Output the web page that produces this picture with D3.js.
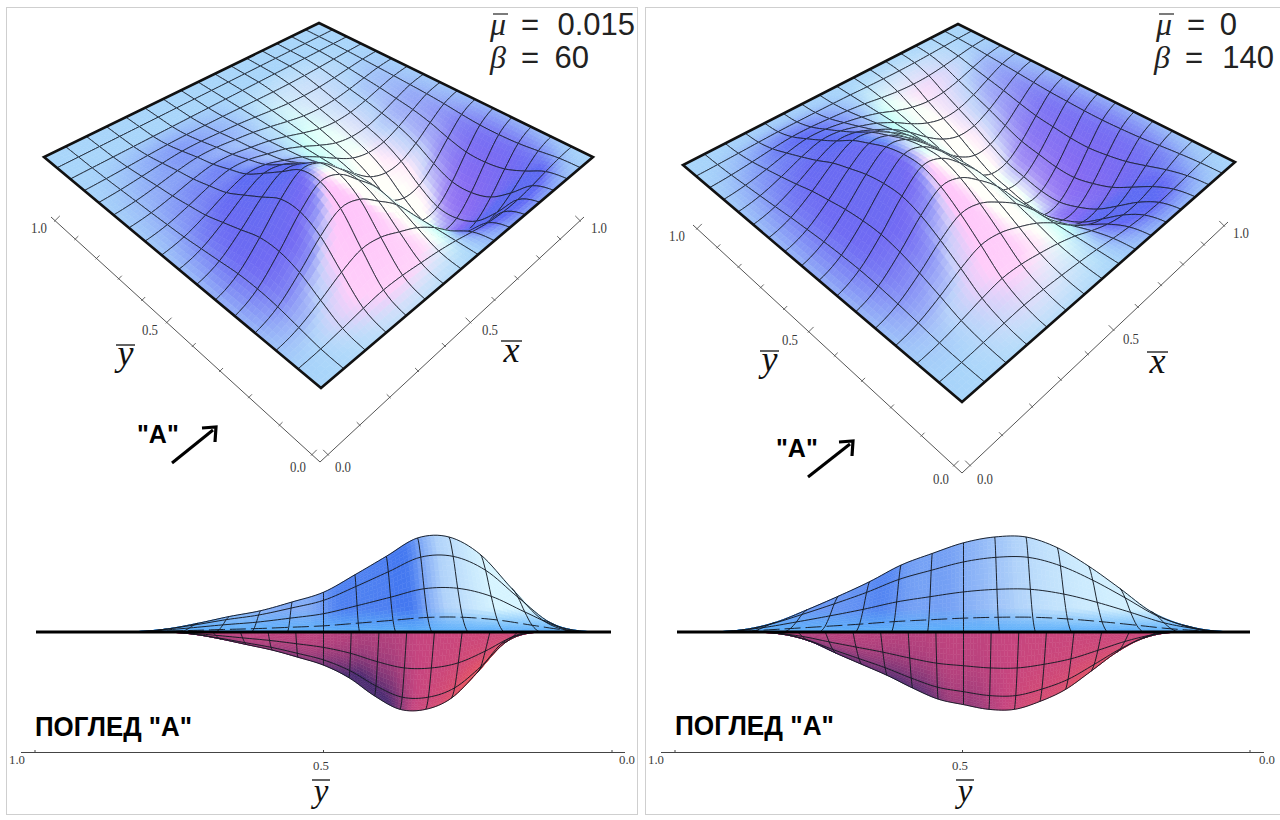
<!DOCTYPE html>
<html><head><meta charset="utf-8">
<script src="https://cdn.jsdelivr.net/npm/d3@7/dist/d3.min.js"></script>
<style>html,body{margin:0;padding:0;background:#fff}svg{display:block}</style>
</head><body><svg id="c" width="1280" height="820"></svg>
<script>
// ---- values (nodes at k/16) ----
const xProfileLeft  = [0,.14,.43,.77,1,.93,.68,.40,0,-.44,-.82,-1,-.97,-.74,-.42,-.13,0];
const yHumpLeft     = [0,.12,.45,.80,.98,.97,.78,.59,.41,.31,.22,.16,.09,.03,0,0,0];
const yDipLeft      = [0,.14,.52,.84,.98,.98,.81,.58,.42,.32,.23,.16,.09,.03,0,0,0];
const xProfileRight = [0,.14,.42,.76,1,.94,.70,.40,0,-.44,-.80,-1,-.98,-.76,-.44,-.14,0];
const yHumpRight    = [0,.07,.21,.45,.68,.87,.98,.98,.92,.81,.69,.52,.37,.23,.10,.02,0];
const yDipRight     = [0,.08,.26,.50,.73,.88,.98,.98,.92,.85,.71,.55,.41,.27,.12,.03,0];
const axisTicks     = d3.range(0,11).map(d=>d/10);
const tickLabels    = [0,0.5,1];
const muLabels      = ["0.015","0"];
const betaLabels    = ["60","140"];

const panels = [
 {xP:xProfileLeft,hump:yHumpLeft,dip:yDipLeft,
  front:[321,388],right:[593,157],left:[44,157],back:[319,23],k:88,
  apex:[320,462],yEnd:[51,217],xEnd:[584,217],
  yLab:[[298,472],[150,335],[39,233]],xLab:[[343,472],[490,335],[599,233]],
  yBar:[116,135,345],xBar:[501,522,341],
  mu:[490,521,635,35],beta:[490,521,589,68],muT:muLabels[0],betaT:betaLabels[0],
  aTxt:[137,443],arrow:[172,463,216,427],
  base:[36,611,323.5],vt:[35,192,736],ax:[21,625,752],axT:[35,323,612],axL:[17,321,627],vyBar:[312,330,780],
  frame:[6.5,7.5,631,807]},
 {xP:xProfileRight,hump:yHumpRight,dip:yDipRight,
  front:[962,402],right:[1235,162],left:[683,165],back:[958,24],k:88,
  apex:[962,473],yEnd:[693,225],xEnd:[1228,222],
  yLab:[[941,484],[790,345],[677,241]],xLab:[[985,484],[1131,344],[1241,238]],
  yBar:[760,779,351],xBar:[1147,1168,352],
  mu:[1156,1187,1237,35],beta:[1154,1185,1274,68],muT:muLabels[1],betaT:betaLabels[1],
  aTxt:[776,457],arrow:[808,477,853,441],
  base:[677,1250,963.5],vt:[675,834,735],ax:[661,1264,752],axT:[675,962,1250],axL:[656,960,1267],vyBar:[956,974,780],
  frame:[645.5,7.5,640,807]}
];
const svg = d3.select("#c");
const SERIF = "'Liberation Serif',serif", SANS = "'Liberation Sans',Arial,sans-serif";
const clamp=(v,a=0,b=1)=>Math.max(a,Math.min(b,v));

function sample(tab,t){
  const n=tab.length-1, p=clamp(t)*n, i=Math.min(n-1,Math.floor(p)), f=p-i;
  const a=tab[Math.max(0,i-1)],b=tab[i],c=tab[i+1],d=tab[Math.min(n,i+2)];
  return .5*((2*b)+(-a+c)*f+(2*a-5*b+4*c-d)*f*f+(-a+3*b-3*c+d)*f*f*f);
}
function homography(p){
  const [x0,y0]=p.front,[x1,y1]=p.right,[x2,y2]=p.left,[x3,y3]=p.back;
  const dx1=x1-x3,dx2=x2-x3,sx=x0-x1+x3-x2,dy1=y1-y3,dy2=y2-y3,sy=y0-y1+y3-y2;
  const D=dx1*dy2-dx2*dy1,g=(sx*dy2-dx2*sy)/D,h=(dx1*sy-sx*dy1)/D;
  const a=x1-x0+g*x1,b=x2-x0+h*x2,d=y1-y0+g*y1,e=y2-y0+h*y2;
  return (u,v)=>{const q=g*u+h*v+1;return [(a*u+b*v+x0)/q,(d*u+e*v+y0)/q,1/q];};
}
const soft=v=>.8*Math.tanh(v/.8);
function shade(gx,gy,w){
  const nr=soft(1.35*(gy-gx)/Math.SQRT2), nu=soft(1.35*-(gx+gy)/Math.SQRT2);
  const rp=Math.max(nr,0),rn=Math.min(nr,0),up=Math.max(nu,0),un=Math.max(-nu,0);
  const f=clamp((nu+.5)/.5), f2=clamp(nu/.4), wp=Math.max(w,0), wn=Math.max(-w,0);
  let r=.66+.46*rp+.38*rn-.22*up+.07*un+.16*wp*(1-clamp(-rn/.35))+.14*wn;
  let g=.835+.56*rn-.35*up*(1-clamp(rp/.5))+.28*rp*f+.05*rp-.1*rp*un-.06*wp*(1-f2)+.1*wp*f2+.14*wn*Math.max(rp/.4,0);
  let b=.98-.04*Math.max(-nr,0);
  return d3.rgb(clamp(r,.37)*255,clamp(g,.42)*255,clamp(b)*255).formatHex();
}
const line=d3.line();

panels.forEach(p=>{
  const G=svg.append("g");
  G.append("rect").attr("x",p.frame[0]).attr("y",p.frame[1]).attr("width",p.frame[2]).attr("height",p.frame[3])
   .attr("fill","none").attr("stroke","#cfcfcf").attr("stroke-width",1);
  const H=homography(p);
  const W=(x,y)=>{const X=sample(p.xP,x);return X*Math.max(0,sample(X>=0?p.hump:p.dip,y));};
  const proj=(x,y)=>{const q=H(x,y);return [q[0],q[1]-p.k*W(x,y)*q[2]];};
  const N=16,SUB=5,h=1/N/SUB,e=.004;
  const cells=[];
  d3.range(N).forEach(i=>d3.range(N).forEach(j=>cells.push({i,j})));
  cells.sort((a,b)=>(b.i+b.j)-(a.i+a.j)||(a.i-b.i));
  const plate=G.append("g");
  const cg=plate.selectAll("g").data(cells).join("g");
  cg.each(function(c){
    const x0=c.i/N,y0=c.j/N,subs=[];
    for(let a=SUB-1;a>=0;a--)for(let b=SUB-1;b>=0;b--){
      const xa=x0+a*h,ya=y0+b*h,xm=xa+h/2,ym=ya+h/2;
      const gx=(W(xm+e,ym)-W(xm-e,ym))/(2*e)*p.k/357, gy=(W(xm,ym+e)-W(xm,ym-e))/(2*e)*p.k/357;
      subs.push({d:line([proj(xa,ya),proj(xa+h,ya),proj(xa+h,ya+h),proj(xa,ya+h)])+"Z",c:shade(gx,gy,W(xm,ym))});
    }
    const g=d3.select(this);
    g.selectAll("path.f").data(subs).join("path").attr("class","f").attr("d",d=>d.d)
      .attr("fill",d=>d.c).attr("stroke",d=>d.c).attr("stroke-width",.6);
    const t=d3.range(SUB+1).map(s=>s/N/SUB);
    const edge=[t.map(s=>proj(x0+s,y0)),t.map(s=>proj(x0+s,y0+1/N)),t.map(s=>proj(x0,y0+s)),t.map(s=>proj(x0+1/N,y0+s))];
    g.selectAll("path.e").data(edge).join("path").attr("class","e").attr("d",d=>line(d))
      .attr("fill","none").attr("stroke","#161c28").attr("stroke-width",.85);
  });
  G.append("path").attr("d",line([p.front,p.right,p.back,p.left])+"Z").attr("fill","none")
    .attr("stroke","#111").attr("stroke-width",2.6).attr("stroke-linejoin","miter");

  // bracket axes
  const pers=d3.scaleLinear().domain([0,1]).range([.03,.985]);
  const along=(A,B,t)=>{const f=pers(t/(t+(1-t)*.77));return [A[0]+(B[0]-A[0])*f,A[1]+(B[1]-A[1])*f];};
  [[p.yEnd,[3,-3],p.yLab],[p.xEnd,[-3,-3],p.xLab]].forEach(([End,dir,lab])=>{
    const ag=G.append("g");
    ag.append("path").attr("d",line([p.apex,End])).attr("stroke","#555").attr("stroke-width",1).attr("fill","none");
    ag.selectAll("path.t").data(axisTicks).join("path").attr("class","t")
      .attr("d",t=>{const q=along(p.apex,End,t),L=Math.round(t*10)%5===0?1.6:1;return line([[q[0]-dir[0]*.3,q[1]-dir[1]*.3],[q[0]+dir[0]*L,q[1]+dir[1]*L]]);})
      .attr("stroke","#555").attr("stroke-width",.9);
    ag.selectAll("text").data(tickLabels).join("text")
      .attr("x",(d,i)=>lab[i][0]-8).attr("y",(d,i)=>lab[i][1]).attr("textLength",16).attr("lengthAdjust","spacingAndGlyphs")
      .attr("font-family",SERIF).attr("font-size",15).attr("fill","#3a3a3a").text(d=>d.toFixed(1));
  });
  const barVar=(txt,b,size,dy)=>{
    G.append("text").attr("x",(b[0]+b[1])/2).attr("y",b[2]+dy).attr("text-anchor","middle")
      .attr("font-family",SERIF).attr("font-style","italic").attr("font-size",size).attr("fill","#111").text(txt);
    G.append("line").attr("x1",b[0]).attr("x2",b[1]).attr("y1",b[2]).attr("y2",b[2]).attr("stroke","#222").attr("stroke-width",1.4);
  };
  barVar("y",p.yBar,36,20);
  barVar("x",p.xBar,36,21);
  barVar("y",p.vyBar,33,22);

  const cap=(sym,c,val,bar)=>{
    G.append("text").attr("x",c[0]).attr("y",c[3]).attr("font-family",SERIF).attr("font-style","italic")
      .attr("font-size",32).attr("fill","#222").text(sym);
    if(bar)G.append("line").attr("x1",c[0]+3).attr("x2",c[0]+18).attr("y1",c[3]-21).attr("y2",c[3]-21).attr("stroke","#333").attr("stroke-width",1.3);
    G.append("text").attr("x",c[1]).attr("y",c[3]).attr("font-family",SANS).attr("font-size",31).attr("fill","#222").text("=");
    G.append("text").attr("x",c[2]).attr("y",c[3]).attr("text-anchor","end").attr("font-family",SANS).attr("font-size",31).attr("fill","#222").text(val);
  };
  cap("μ",p.mu,p.muT,true);
  cap("β",p.beta,p.betaT,false);

  G.append("text").attr("x",p.aTxt[0]).attr("y",p.aTxt[1]).attr("font-family",SANS).attr("font-weight","bold")
    .attr("font-size",25).attr("fill","#000").text('"A"');
  const [ax,ay,bx,by]=p.arrow;
  G.append("path").attr("d",line([[ax,ay],[bx-3,by+3]])).attr("stroke","#000").attr("stroke-width",3).attr("fill","none");
  G.append("path").attr("d",line([[bx-14,by+1],[bx,by],[bx-1,by+15]])).attr("stroke","#000").attr("stroke-width",3.2).attr("fill","none");

  // ---- view "A" ----
  const y0=632, span=p.base[1]-p.base[0]+2, cx=p.base[2], Hgt=111.5;
  const sv=x=>1/(1+.6*x);
  const vp=(x,y)=>{const s=sv(x);return [cx+(.5-y)*span*s,y0-Hgt*W(x,y)*s];};
  const sideTable=(tab,y)=>(sample(tab,y+.01)-sample(tab,y-.01))/.02;
  const upC=d3.scaleLinear().domain([-3,0,4]).range(["#4478f0","#b0d2fa","#d6f4ff"]).clamp(true);
  const loC=d3.scaleLinear().domain([-3,0,5]).range(["#4a2a70","#c6457f","#e8525e"]).clamp(true);
  const view=(rows,tab,colorFn)=>{
    const vg=G.append("g");
    const sr=6,sc=8,quads=[],lines=[];
    const a=rows[0],b=rows[1];
    for(let i=b*sr-1;i>=a*sr;i--){
      for(let j=0;j<N*sc;j++){
        const xa=i/N/sr,xb=(i+1)/N/sr,ya=j/N/sc,yb=(j+1)/N/sc;
        const ym=(ya+yb)/2,xm=(xa+xb)/2;
        if(Math.abs(W(xm,ym))<.001)continue;
        quads.push({d:line([vp(xa,ya),vp(xb,ya),vp(xb,yb),vp(xa,yb)])+"Z",
          c:colorFn(sideTable(tab,ym),Math.abs(sample(p.xP,xm)),Math.abs(W(xm,ym)))});
      }
    }
    vg.selectAll("path.q").data(quads).join("path").attr("class","q").attr("d",d=>d.d)
      .attr("fill",d=>d.c).attr("stroke",d=>d.c).attr("stroke-width",.5);
    const fine=d3.range(0,N*8+1).map(k=>k/N/8);
    d3.range(a,b+1).forEach(i=>{ if(i===(a===0?0:8))return;
      lines.push({d:line(fine.map(y=>vp(i/N,y))),dash:(a===0&&i===1)?"16 5":null});});
    d3.range(1,N).forEach(j=>{
      const tx=d3.range(a*4,b*4+1).map(k=>k/N/4);
      if(tab[j]>.005)lines.push({d:line(tx.map(x=>vp(x,j/N))),dash:null});
    });
    vg.selectAll("path.m").data(lines).join("path").attr("class","m").attr("d",d=>d.d)
      .attr("fill","none").attr("stroke","#141a24").attr("stroke-width",.95).attr("stroke-dasharray",d=>d.dash);
  };
  view([0,4],p.hump,(sl,X,w)=>d3.interpolateRgb("#5aaefa",d3.rgb(upC(sl*.9)))(clamp(w/.22)));
  view([8,11],p.dip,(sl,X,w)=>d3.rgb(loC(sl*(.15+.85*X*X)*1.1)).formatHex());
  G.append("line").attr("x1",p.base[0]).attr("x2",p.base[1]).attr("y1",y0).attr("y2",y0).attr("stroke","#000").attr("stroke-width",3.2);

  G.append("text").attr("x",p.vt[0]).attr("y",p.vt[2]).attr("font-family",SANS).attr("font-weight","bold").attr("font-size",28)
    .attr("textLength",p.vt[1]-p.vt[0]).attr("lengthAdjust","spacingAndGlyphs").attr("fill","#000").text('ПОГЛЕД "А"');

  const bs=d3.scaleLinear().domain([1,0]).range([p.axT[0],p.axT[2]]);
  G.append("line").attr("x1",p.ax[0]).attr("x2",p.ax[1]).attr("y1",p.ax[2]+.5).attr("y2",p.ax[2]+.5).attr("stroke","#444");
  G.selectAll("line.bt").data(tickLabels).join("line").attr("class","bt").attr("x1",d=>bs(d)).attr("x2",d=>bs(d))
    .attr("y1",p.ax[2]).attr("y2",p.ax[2]-2).attr("stroke","#444");
  const lbl=[...tickLabels].reverse();
  G.selectAll("text.bl").data(lbl).join("text").attr("class","bl")
    .attr("x",(d,i)=>p.axL[i]-8).attr("y",(d,i)=>i===1?770:764).attr("textLength",16).attr("lengthAdjust","spacingAndGlyphs")
    .attr("font-family",SERIF).attr("font-size",13).attr("fill","#3a3a3a").text(d=>d.toFixed(1));
});
</script></body></html>
